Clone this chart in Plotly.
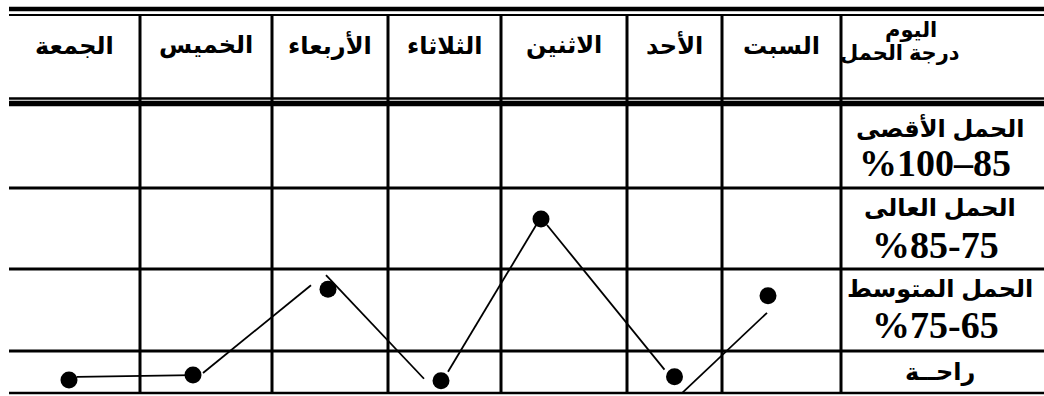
import plotly.graph_objects as go

# days, from Saturday to Friday (table reads right to left)
days = ["السبت", "الأحد", "الاثنين", "الثلاثاء", "الأربعاء", "الخميس", "الجمعة"]
# load level of each day: 0-0.5 rest, 0.5-1.5 medium, 1.5-2.5 high, 2.5-3.5 max
load_level = [1.19, 0.20, 2.13, 0.15, 1.27, 0.22, 0.16]

row_names = ["الحمل الأقصى", "الحمل العالى", "الحمل المتوسط"]
row_ranges = ["%100–85", "%85-75", "%75-65"]
rest_name = "راحــة"
corner_top = "اليوم"
corner_bottom = "درجة الحمل"

# layout of the table (pixels)
W, H = 1044, 396
PX = 81.7          # pixels per load level
BASE = 393         # pixel row of level 0
col_edges = [9, 140, 272, 388, 501, 627, 722, 841, W]
marker_nudge = [-13.5, 0, -23, -3.5, -2, -13, -5.5]
# hand drawn connectors: (start dx, dy), (end dx, dy) in pixels, left to right
seg_offsets = [((8, -3), (0, 0)), ((10, -2), (-17, -4)), ((-2, -14), (-17, -2)),
               ((7, -9), (-3, 3)), ((6, 6), (-10, -7)), ((8, 16), (-1, 17))]


def py(p):
    return (BASE - p) / PX


def day_x(k):
    c = 6 - k
    return (col_edges[c] + col_edges[c + 1]) / 2 + marker_nudge[k]


xs = [day_x(k) for k in range(7)]

fig = go.Figure()

# connector segments, from Friday (left) to Saturday (right)
order = list(range(6, -1, -1))
lx, ly = [], []
for i in range(6):
    a, b = order[i], order[i + 1]
    (sx, sy), (ex, ey) = seg_offsets[i]
    lx += [xs[a] + sx, xs[b] + ex, None]
    ly += [load_level[a] - sy / PX, load_level[b] - ey / PX, None]
fig.add_trace(go.Scatter(x=lx, y=ly, mode="lines",
                         line=dict(color="black", width=1.8), hoverinfo="skip"))
fig.add_trace(go.Scatter(x=xs, y=load_level, mode="markers", text=days,
                         marker=dict(color="black", size=17)))

shapes = []


def hline(p, w, x0=9):
    shapes.append(dict(type="line", xref="x", yref="y", x0=x0, x1=W,
                       y0=py(p), y1=py(p), line=dict(color="black", width=w)))


hline(9, 4.5)
hline(15, 2)
hline(98.5, 2.5)
hline(103.5, 5.5)
for p in [188, 269, 351]:
    hline(p, 3)
hline(393, 2.5)
for e in col_edges[1:-1]:
    shapes.append(dict(type="line", xref="x", yref="y", x0=e, x1=e,
                       y0=py(16), y1=py(393), line=dict(color="black", width=3)))

ar_font = dict(family="Arial, 'DejaVu Sans', sans-serif", size=24, color="black")
corner_font = dict(family="Arial, 'DejaVu Sans', sans-serif", size=21, color="black")
num_font = dict(family="'Times New Roman', 'Liberation Serif', serif", size=38, color="black")

ann = []
for k, d in enumerate(days):
    c = 6 - k
    ann.append(dict(x=(col_edges[c] + col_edges[c + 1]) / 2, y=py(45), text="<b>" + d + "</b>",
                    showarrow=False, font=ar_font))

lab_x = 940
ann.append(dict(x=911, y=py(30), text="<b>" + corner_top + "</b>", showarrow=False, font=corner_font))
ann.append(dict(x=900, y=py(53), text="<b>" + corner_bottom + "</b>", showarrow=False, font=corner_font))
name_y = [128, 207, 289]
range_y = [163, 245, 325]
for i in range(3):
    ann.append(dict(x=lab_x, y=py(name_y[i]), text="<b>" + row_names[i] + "</b>",
                    showarrow=False, font=ar_font))
    ann.append(dict(x=935, y=py(range_y[i]), text="<b>" + row_ranges[i] + "</b>",
                    showarrow=False, font=num_font))
ann.append(dict(x=lab_x, y=py(372), text="<b>" + rest_name + "</b>", showarrow=False, font=ar_font))

fig.update_layout(
    width=W, height=H,
    margin=dict(l=0, r=0, t=0, b=0),
    plot_bgcolor="white", paper_bgcolor="white",
    showlegend=False,
    shapes=shapes,
    annotations=ann,
    xaxis=dict(range=[0, W], visible=False, fixedrange=True),
    yaxis=dict(range=[py(H), py(0)], visible=False, fixedrange=True),
)

# the page body has a default margin, drop it so the table sits at the window edge
fig.write_html("out.html", config={"displayModeBar": False},
               post_script="document.body.style.margin='0';document.body.style.overflow='hidden';")
